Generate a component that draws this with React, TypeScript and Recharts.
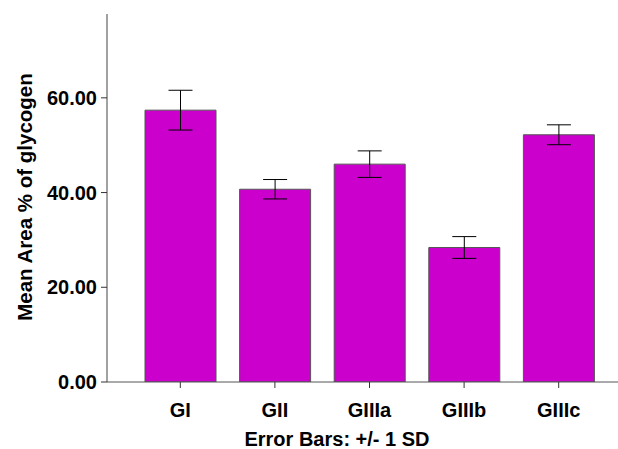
import React from "react";
import { BarChart, Bar, XAxis, YAxis, ErrorBar, Label } from "recharts";

const groups = ["GI", "GII", "GIIIa", "GIIIb", "GIIIc"];
const means = [57.4, 40.7, 46.0, 28.4, 52.2];
const sds = [4.2, 2.05, 2.8, 2.3, 2.1];
const yTicks = [0, 20, 40, 60];

const data = groups.map((g, i) => ({ group: g, mean: means[i], sd: sds[i] }));

const FONT = "'Liberation Sans', Arial, sans-serif";

export default function App() {
  return (
    <div style={{ position: "absolute", left: 0, top: 0, background: "#fff" }}>
      <BarChart
        width={618}
        height={449}
        data={data}
        margin={{ top: 14, right: 0, bottom: 0, left: 0 }}
        barSize={71}
      >
        <XAxis
          dataKey="group"
          xAxisId="bottom"
          height={67}
          padding={{ left: 26, right: 12 }}
          axisLine={{ stroke: "#555", strokeWidth: 1 }}
          tickLine={{ stroke: "#333", strokeWidth: 1 }}
          tickSize={6}
          tickMargin={15}
          tick={{ fill: "#000", fontFamily: FONT, fontWeight: "bold", fontSize: 20 }}
          interval={0}
        >
          <Label
            content={() => (
              <text
                x={337}
                y={446}
                textAnchor="middle"
                fontFamily={FONT}
                fontWeight="bold"
                fontSize={20}
                fill="#000"
              >
                Error Bars: +/- 1 SD
              </text>
            )}
          />
        </XAxis>
        <XAxis
          dataKey="group"
          xAxisId="top"
          orientation="top"
          height={0}
          tick={false}
          tickLine={false}
          axisLine={{ stroke: "#888", strokeWidth: 1.5 }}
          padding={{ left: 26, right: 12 }}
        />
        <YAxis
          width={107}
          domain={[0, 77.7]}
          ticks={yTicks}
          allowDataOverflow
          axisLine={{ stroke: "#444", strokeWidth: 1 }}
          tickLine={{ stroke: "#333", strokeWidth: 1 }}
          tickSize={6}
          tickMargin={4}
          tickFormatter={(v: number) => v.toFixed(2)}
          tick={{ fill: "#000", fontFamily: FONT, fontWeight: "bold", fontSize: 20 }}
        >
          <Label
            content={() => (
              <text
                x={24}
                y={197}
                transform="rotate(-90 24 197)"
                textAnchor="middle"
                dominantBaseline="central"
                fontFamily={FONT}
                fontWeight="bold"
                fontSize={20.5}
                fill="#000"
              >
                Mean Area % of glycogen
              </text>
            )}
          />
        </YAxis>
        <Bar
          dataKey="mean"
          xAxisId="bottom"
          fill="#CC00CC"
          stroke="#555"
          strokeWidth={1}
          isAnimationActive={false}
        >
          <ErrorBar dataKey="sd" width={12} stroke="#000" strokeWidth={1} />
        </Bar>
      </BarChart>
    </div>
  );
}
